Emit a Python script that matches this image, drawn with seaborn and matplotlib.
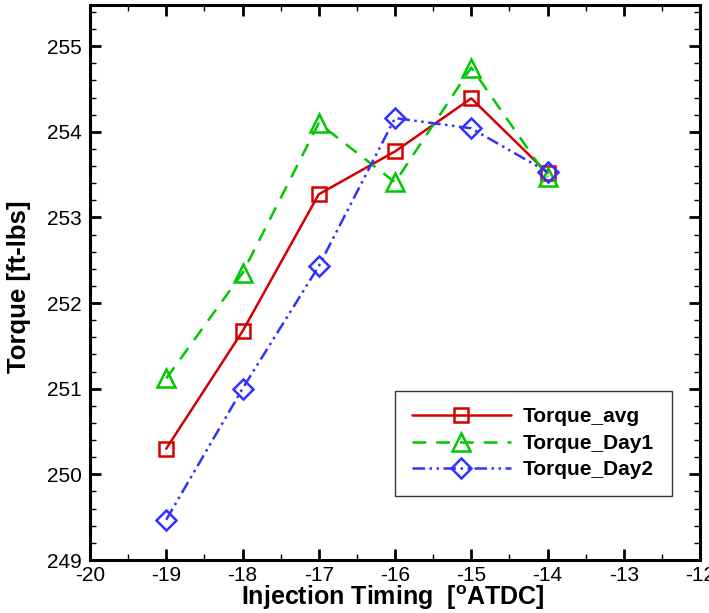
import matplotlib
matplotlib.use("Agg")
import matplotlib.pyplot as plt
import seaborn as sns
import pandas as pd
from matplotlib.ticker import MultipleLocator

timing = [-19, -18, -17, -16, -15, -14]
torque_avg = [250.30, 251.67, 253.27, 253.77, 254.39, 253.52]
torque_day1 = [251.12, 252.35, 254.10, 253.41, 254.75, 253.47]
torque_day2 = [249.47, 251.00, 252.43, 254.16, 254.04, 253.53]
series_names = ["Torque_avg", "Torque_Day1", "Torque_Day2"]

sns.set_theme(style="white")
plt.rcParams['font.family'] = ['Liberation Sans', 'DejaVu Sans']
plt.rcParams['mathtext.fontset'] = 'custom'
plt.rcParams['mathtext.rm'] = 'Liberation Sans'
plt.rcParams['mathtext.bf'] = 'Liberation Sans:bold'
plt.rcParams['text.color'] = 'black'
plt.rcParams['axes.labelcolor'] = 'black'
plt.rcParams['xtick.color'] = 'black'
plt.rcParams['ytick.color'] = 'black'
plt.rcParams['axes.unicode_minus'] = False

fig = plt.figure(figsize=(7.09, 6.13), dpi=100)
ax = fig.add_axes([90 / 709, 53 / 613, 610 / 709, 555 / 613])

styles = {
    "Torque_avg": dict(color="#d40000", marker="s", linestyle="-"),
    "Torque_Day1": dict(color="#00c800", marker="^", linestyle=(0, (5.5, 4))),
    "Torque_Day2": dict(color="#3232ff", marker="D", linestyle=(0, (5, 1.8, 1, 1.8, 1, 1.8))),
}
msizes = {"Torque_avg": 10.5, "Torque_Day1": 12.5, "Torque_Day2": 10.3}

for name, vals in zip(series_names, [torque_avg, torque_day1, torque_day2]):
    df = pd.DataFrame({"x": timing, "y": vals})
    st = styles[name]
    sns.lineplot(data=df, x="x", y="y", ax=ax, label=name,
                 color=st["color"], marker=st["marker"], linestyle=st["linestyle"],
                 markersize=msizes[name], markerfacecolor="none",
                 markeredgecolor=st["color"], markeredgewidth=1.8,
                 linewidth=1.8)

ax.set_xlim(-20, -12)
ax.set_ylim(249, 255.48)
ax.xaxis.set_major_locator(MultipleLocator(1))
ax.xaxis.set_minor_locator(MultipleLocator(0.5))
ax.yaxis.set_major_locator(MultipleLocator(1))
ax.yaxis.set_minor_locator(MultipleLocator(0.2))
ax.tick_params(which="both", direction="in", top=True, right=True, bottom=True, left=True,
               colors="black", labelcolor="black", labelsize=15)
ax.tick_params(which="major", length=8, width=2)
ax.tick_params(axis="y", which="major", pad=6)
ax.tick_params(axis="x", which="major", pad=4)
ax.tick_params(which="minor", length=4.5, width=1)
for s in ax.spines.values():
    s.set_linewidth(2.2)
    s.set_color("black")

ax.set_xlabel(r"Injection Timing  [$^{\mathbf{o}}$ATDC]", fontsize=18, fontweight="bold",
              color="black")
ax.set_ylabel("Torque [ft-lbs]", fontsize=18.5, fontweight="bold", color="black")
ax.xaxis.set_label_coords(0.4959, -0.081)
ax.xaxis.label.set_va("baseline")
ax.yaxis.set_label_coords(-0.105, 0.4928)
ax.yaxis.label.set_va("baseline")

leg = ax.legend(loc="lower left", bbox_to_anchor=(0.5, 0.1153, 0.454, 0.191), mode="expand",
                frameon=True, fancybox=False, handlelength=4.75, handletextpad=0.6,
                borderaxespad=0, prop={"weight": "bold", "size": 15}, labelspacing=0.36,
                borderpad=0.8)
leg.get_frame().set_edgecolor("black")
leg.get_frame().set_linewidth(1.0)
for t in leg.get_texts():
    t.set_color("black")
ax.grid(False)

fig.savefig("out.png", dpi=100)
